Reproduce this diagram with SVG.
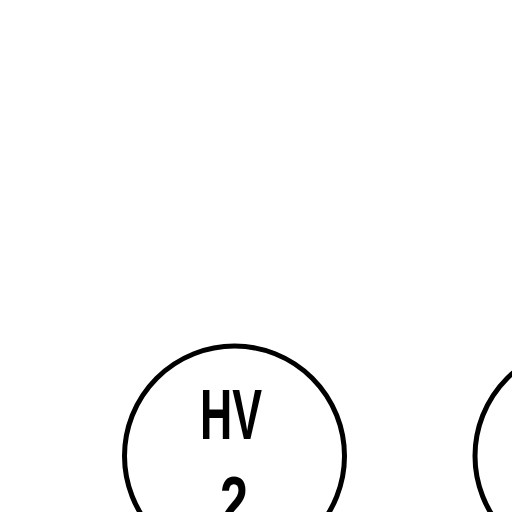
<svg xmlns="http://www.w3.org/2000/svg" width="512" height="512" viewBox="0 0 512 512">
<style>
.node{fill:none;stroke:#000;stroke-width:5}
.lbl{font-family:"Liberation Sans","DejaVu Sans",sans-serif;font-size:71px;font-weight:bold;fill:#000;text-anchor:middle}
</style>
<rect width="512" height="512" fill="#fff"/>
<g id="connectors"></g>
<g id="hv2">
<circle class="node" cx="234.5" cy="456" r="110"/>
<text class="lbl" x="231" y="439" textLength="62" lengthAdjust="spacingAndGlyphs">HV</text>
<text class="lbl" x="234" y="526" textLength="28" lengthAdjust="spacingAndGlyphs">2</text>
</g>
<g id="node-right">
<circle class="node" cx="585" cy="456" r="110"/>
</g>
</svg>
